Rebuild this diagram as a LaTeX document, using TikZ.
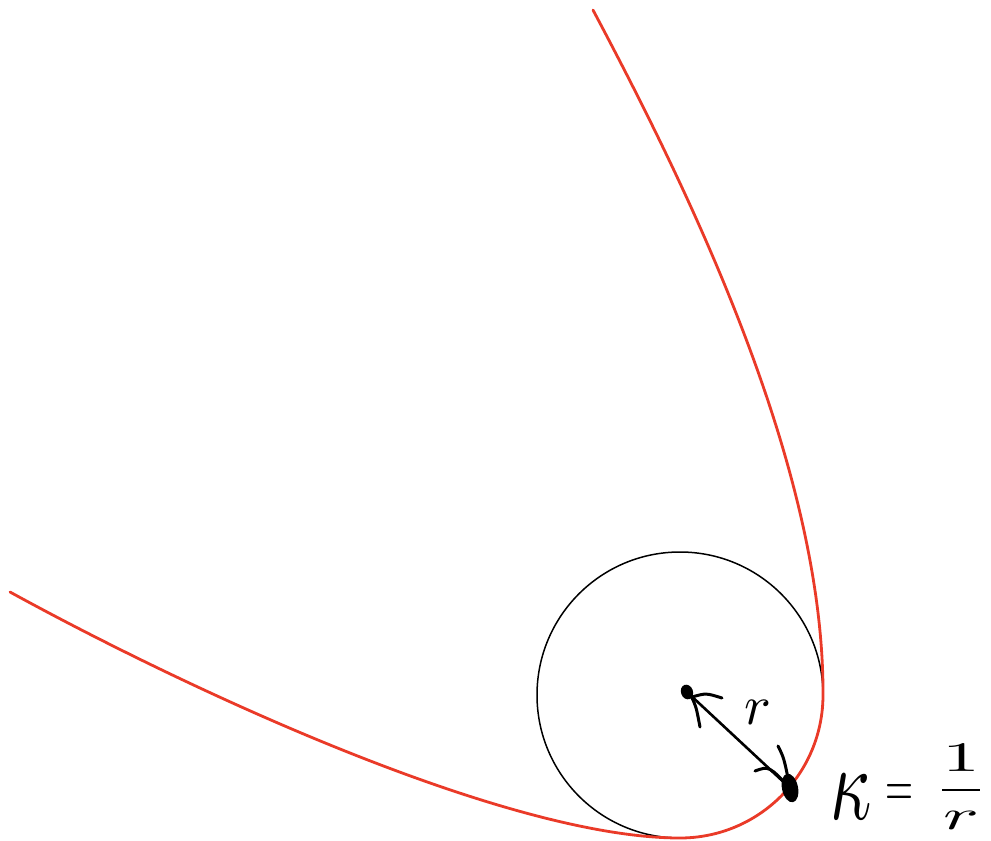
\documentclass[tikz,border=0pt]{standalone}
\usepackage{graphicx}
\usetikzlibrary{shapes.geometric}
\definecolor{curvered}{RGB}{234,58,40}
\tikzset{
  curvesty/.style={draw=curvered, line width=2.8pt, line cap=round},
  circsty/.style={circle, draw=black, line width=1.5pt, minimum size=286pt, inner sep=0pt},
  dotsty/.style={ellipse, fill=black, inner sep=0pt},
  radsty/.style={draw=black, line width=2.6pt, line cap=round},
  handsty/.style={draw=black, line width=3pt, line cap=round},
  labsty/.style={inner sep=0pt, text=black}
}
\begin{document}
\begin{tikzpicture}[x=1pt, y=-1pt]
\useasboundingbox (0,0) rectangle (991,841);
% osculating circle
\node[circsty] (circ) at (680,695) {};
% red curve
\coordinate (cL) at (10,592);
\coordinate (cB) at (680,838);
\coordinate (cR) at (823,695);
\coordinate (cT) at (593,10);
\draw[curvesty] (cL) .. controls (185,688) and (505,838) .. (cB)
  arc[start angle=90, end angle=0, radius=143]
  .. controls (824,465) and (687,187) .. (cT);
% dots
\node[dotsty, minimum width=12pt, minimum height=15pt, rotate=20] (ctr) at (687,692) {};
\node[dotsty, minimum width=16pt, minimum height=29pt, rotate=12] (pt) at (790,788) {};
% radius line
\draw[radsty] (ctr.center) -- (pt.center);
% hand-drawn arrow heads
\coordinate (h1) at (700,727);
\coordinate (h2) at (722,698);
\coordinate (h3) at (778,746);
\coordinate (h4) at (755,771);
\draw[handsty] (ctr.center) ++(4,4) .. controls (696,706) .. (h1);
\draw[handsty] (ctr.center) ++(5,5) .. controls (706,693) .. (h2);
\draw[handsty] (h3) .. controls (784,758) .. (pt.center);
\draw[handsty] (h4) .. controls (769,766) .. (pt.center);
% labels
\node[labsty] (rlab) at (758,712) {\scalebox{5.6}{$r$}};
\node[labsty] (kap) at (851,797) {\scalebox{7.2}[10.5]{$\kappa$}};
\node[labsty] (eq) at (899,795) {\scalebox{3.6}[6]{$=$}};
\node[labsty] (frac) at (961,787) {\scalebox{7.5}[4.2]{$\displaystyle\frac{1}{r}$}};
\end{tikzpicture}
\end{document}
